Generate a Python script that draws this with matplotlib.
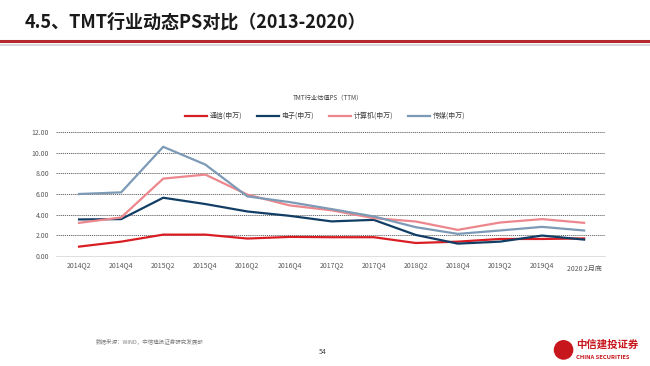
import matplotlib
matplotlib.use("Agg")
import matplotlib.pyplot as plt
from matplotlib.patches import Ellipse

plt.rcParams['font.family'] = ['Noto Sans CJK SC', 'DejaVu Sans']

quarters = ["2014Q2", "2014Q4", "2015Q2", "2015Q4", "2016Q2", "2016Q4", "2017Q2",
            "2017Q4", "2018Q2", "2018Q4", "2019Q2", "2019Q4", "2020 2月底"]
tongxin = [0.91, 1.39, 2.07, 2.07, 1.69, 1.85, 1.82, 1.82, 1.26, 1.39, 1.65, 1.65, 1.70]
dianzi = [3.54, 3.57, 5.64, 5.03, 4.31, 3.89, 3.35, 3.50, 2.04, 1.20, 1.39, 1.98, 1.59]
jisuanji = [3.21, 3.73, 7.49, 7.88, 5.94, 4.90, 4.42, 3.67, 3.34, 2.53, 3.24, 3.57, 3.21]
chuanmei = [6.00, 6.16, 10.57, 8.85, 5.77, 5.22, 4.54, 3.83, 2.79, 2.14, 2.47, 2.82, 2.47]

series = [("通信(申万)", tongxin, "#D91E23"),
          ("电子(申万)", dianzi, "#123E66"),
          ("计算机(申万)", jisuanji, "#EC878D"),
          ("传媒(申万)", chuanmei, "#7C9AB6")]

fig = plt.figure(figsize=(6.5, 3.66), dpi=100)

# page header
fig.text(0.038, 0.94, "4.5、TMT行业动态PS对比（2013-2020）", fontsize=13, fontweight="bold",
         color="#1a1a1a", va="center", ha="left")
fig.add_artist(plt.Line2D([0, 1], [0.888, 0.888], color="#B5292E", lw=2.2))
fig.add_artist(plt.Line2D([0, 1], [0.878, 0.878], color="#D9D9D9", lw=1.5))

ax = fig.add_axes([0.086, 0.3005, 0.845, 0.3388])
x = range(len(quarters))
for name, vals, c in series:
    ax.plot(x, vals, color=c, lw=1.6, label=name)

ax.set_xlim(-0.55, 12.5)
ax.set_ylim(0, 12)
ax.set_yticks([0, 2, 4, 6, 8, 10, 12])
ax.set_yticklabels([f"{v:.2f}" for v in [0, 2, 4, 6, 8, 10, 12]])
ax.set_xticks(list(x))
ax.set_xticklabels(quarters)
ax.tick_params(axis="both", length=0, labelsize=5, labelcolor="#595959")
ax.tick_params(axis="x", pad=4)
ax.tick_params(axis="y", pad=5)
ax.get_xticklabels()[-1].set_y(-0.025)
ax.grid(axis="y", linestyle=(0, (1.5, 1)), color="#555555", lw=0.6)
ax.set_axisbelow(True)
for s in ["top", "right", "left"]:
    ax.spines[s].set_visible(False)
ax.spines["bottom"].set_color("#D9D9D9")
ax.spines["bottom"].set_linewidth(0.6)

fig.text(0.505, 0.733, "TMT行业估值PS（TTM）", fontsize=4.5, color="#404040", ha="center", va="center")
fig.legend(loc="center", bbox_to_anchor=(0.5, 0.683), ncol=4, frameon=False, fontsize=5,
           handlelength=3.2, columnspacing=2.2, handletextpad=0.3, labelcolor="#404040")

# footer
fig.text(0.147, 0.068, "数据来源：WIND，中信建投证券研究发展部", fontsize=4, style="italic",
         color="#7F7F7F", va="center")
fig.text(0.497, 0.038, "54", fontsize=5, color="#404040", ha="center", va="center")
fig.add_artist(Ellipse((0.867, 0.044), 0.028, 0.05, transform=fig.transFigure, color="#C8161D"))
fig.text(0.886, 0.058, "中信建投证券", fontsize=7.5, fontweight="bold", color="#C8161D", va="center")
fig.text(0.886, 0.023, "CHINA SECURITIES", fontsize=4.2, fontweight="bold", color="#C8161D", va="center")

fig.savefig("out.png", dpi=100)
